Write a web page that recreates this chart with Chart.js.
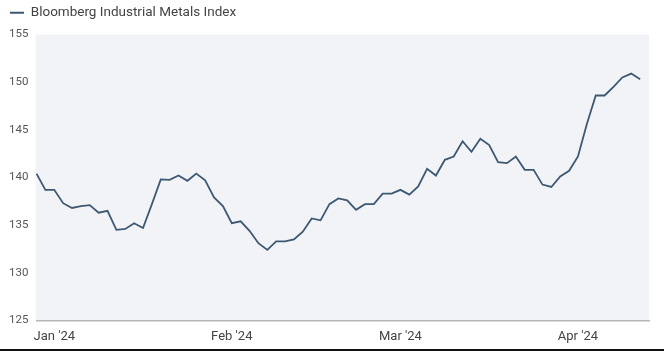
<!DOCTYPE html>
<html>
<head>
<meta charset="utf-8">
<script src="https://cdn.jsdelivr.net/npm/chart.js@4.4.1/dist/chart.umd.min.js"></script>
<style>
  html, body { margin: 0; padding: 0; background: #fff; }
  #wrap { position: relative; width: 664px; height: 351px; }
  #edge { position: absolute; left: 0; right: 0; bottom: 0; height: 2px; background: #111; }
</style>
</head>
<body>
<div id="wrap">
  <canvas id="metalsChart" width="664" height="351"></canvas>
  <div id="edge"></div>
</div>
<script>
// Trading days shown on the x axis (last one carries no value yet)
const dates = [
  '2024-01-02','2024-01-03','2024-01-04','2024-01-05','2024-01-08','2024-01-09','2024-01-10',
  '2024-01-11','2024-01-12','2024-01-16','2024-01-17','2024-01-18','2024-01-19','2024-01-22',
  '2024-01-23','2024-01-24','2024-01-25','2024-01-26','2024-01-29','2024-01-30','2024-01-31',
  '2024-02-01','2024-02-02','2024-02-05','2024-02-06','2024-02-07','2024-02-08','2024-02-09',
  '2024-02-12','2024-02-13','2024-02-14','2024-02-15','2024-02-16','2024-02-20','2024-02-21',
  '2024-02-22','2024-02-23','2024-02-26','2024-02-27','2024-02-28','2024-02-29','2024-03-01',
  '2024-03-04','2024-03-05','2024-03-06','2024-03-07','2024-03-08','2024-03-11','2024-03-12',
  '2024-03-13','2024-03-14','2024-03-15','2024-03-18','2024-03-19','2024-03-20','2024-03-21',
  '2024-03-22','2024-03-25','2024-03-26','2024-03-27','2024-03-28','2024-04-01','2024-04-02',
  '2024-04-03','2024-04-04','2024-04-05','2024-04-08','2024-04-09','2024-04-10','2024-04-11'
];

// Bloomberg Industrial Metals Index
const metalsIndex = [
  140.4, 138.7, 138.7, 137.3, 136.8, 137.0, 137.1, 136.3, 136.5, 134.5,
  134.6, 135.2, 134.7, 137.2, 139.8, 139.75, 140.2, 139.65, 140.4, 139.7,
  137.9, 137.0, 135.2, 135.4, 134.4, 133.1, 132.4, 133.3, 133.3, 133.5,
  134.3, 135.7, 135.5, 137.2, 137.8, 137.6, 136.6, 137.2, 137.2, 138.3,
  138.3, 138.7, 138.2, 139.05, 140.9, 140.2, 141.85, 142.2, 143.8, 142.7,
  144.05, 143.4, 141.6, 141.5, 142.2, 140.8, 140.8, 139.25, 139.0, 140.1,
  140.7, 142.2, 145.6, 148.6, 148.6, 149.5, 150.5, 150.9, 150.3
];

// Month labels and the category index where each one sits
const monthLabels = ["Jan '24", "Feb '24", "Mar '24", "Apr '24"];
const monthTickIdx = [2, 22, 41, 61];

const yTicks = [125, 130, 135, 140, 145, 150, 155];

// Light grey panel behind the plot area
const panelBg = {
  id: 'panelBg',
  beforeDraw(chart) {
    const { ctx, chartArea: a } = chart;
    ctx.save();
    ctx.fillStyle = '#f2f3f6';
    ctx.fillRect(a.left - 1, a.top, a.right - a.left + 1, a.bottom - a.top);
    ctx.restore();
  }
};

// A bit more room between the legend and the plot
const legendGap = {
  id: 'legendGap',
  beforeInit(chart) {
    const fit = chart.legend.fit;
    chart.legend.fit = function () {
      fit.call(this);
      this.height += 5;
    };
  }
};

const ctx = document.getElementById('metalsChart').getContext('2d');
new Chart(ctx, {
  type: 'line',
  data: {
    labels: dates,
    datasets: [{
      label: 'Bloomberg Industrial Metals Index',
      data: metalsIndex,
      borderColor: '#3d5872',
      backgroundColor: '#3d5872',
      borderWidth: 1.8,
      pointRadius: 0,
      tension: 0
    }]
  },
  options: {
    responsive: false,
    animation: false,
    layout: { padding: { left: 4, right: 15, top: 0, bottom: -3 } },
    plugins: {
      legend: {
        position: 'top',
        align: 'start',
        labels: {
          usePointStyle: true,
          pointStyle: 'line',
          pointStyleWidth: 14,
          color: '#444',
          padding: 6,
          font: { family: 'Roboto', size: 13.5 }
        }
      },
      tooltip: { enabled: false }
    },
    scales: {
      x: {
        grid: { display: false, drawTicks: false },
        border: { display: true, color: '#b4b6ba', width: 1.5 },
        ticks: {
          autoSkip: false,
          maxRotation: 0,
          padding: 9,
          color: '#444',
          font: { family: 'Roboto', size: 13 },
          callback: (val, i) => {
            const k = monthTickIdx.indexOf(i);
            return k >= 0 ? monthLabels[k] : '';
          }
        }
      },
      y: {
        min: yTicks[0],
        max: yTicks[yTicks.length - 1],
        grid: { display: false, drawTicks: false },
        border: { display: false },
        afterBuildTicks: axis => { axis.ticks = yTicks.map(v => ({ value: v })); },
        afterFit: axis => { axis.width = 32.5; },
        ticks: {
          padding: 8,
          color: '#555',
          font: { family: 'Roboto', size: 11.5 }
        }
      }
    }
  },
  plugins: [panelBg, legendGap]
});
</script>
</body>
</html>
